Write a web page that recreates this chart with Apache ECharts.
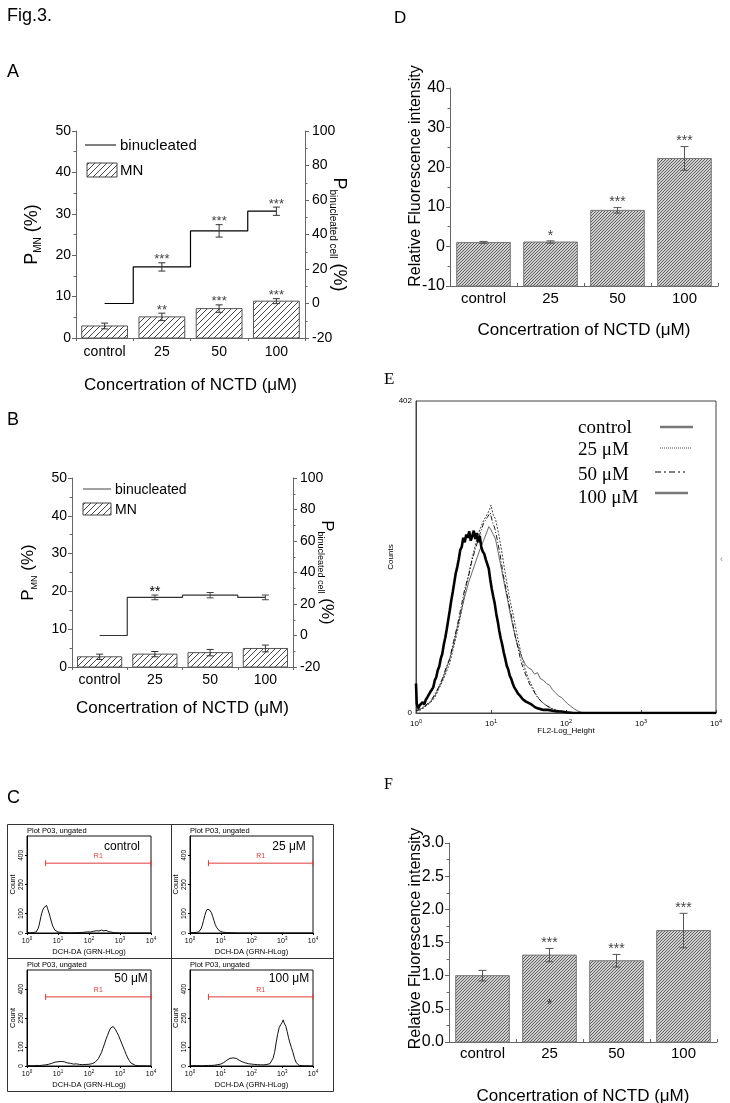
<!DOCTYPE html>
<html>
<head>
<meta charset="utf-8">
<script src="https://cdn.jsdelivr.net/npm/echarts@6.0.0/dist/echarts.min.js"></script>
<style>
html,body{margin:0;padding:0;background:#fff;}
#chart{width:730px;height:1103px;}
</style>
</head>
<body>
<div id="chart"></div>
<script>
// ---------------- data ----------------
const categories = ['control', '25', '50', '100'];
// Panel A
const aMN = [2.9, 5.1, 7.1, 8.9];
const aMNErr = [0.7, 0.9, 0.9, 0.6];
const aMNSig = ['', '**', '***', '***'];
const aBinu = [0, 21.2, 42.1, 53.5];
const aBinuErr = [0, 2.4, 3.6, 2.4];
const aBinuSig = ['', '***', '***', '***'];
// Panel B
const bMN = [2.7, 3.4, 3.8, 4.9];
const bMNErr = [0.7, 0.7, 0.85, 0.9];
const bMNSig = ['', '', '', ''];
const bBinu = [0, 24.2, 25.6, 24.2];
const bBinuErr = [0, 1.5, 1.7, 1.5];
const bBinuSig = ['', '**', '', ''];
// Panel C (x = log10 intensity, y = count)
const cControl = [[0,2],[0.05,3],[0.1,1],[0.15,3],[0.2,2],[0.25,4],[0.3,6],[0.33,12],[0.36,24],[0.39,40],[0.42,62],[0.45,85],[0.48,104],[0.51,118],[0.54,130],[0.57,140],[0.6,134],[0.63,142],[0.66,128],[0.69,118],[0.72,98],[0.75,80],[0.78,62],[0.81,46],[0.84,32],[0.87,22],[0.9,15],[0.95,9],[1.0,5],[1.05,3],[1.2,2],[1.4,1],[1.6,2],[1.8,3],[1.95,6],[2.05,5],[2.15,9],[2.25,12],[2.32,10],[2.4,15],[2.48,11],[2.55,14],[2.62,8],[2.7,5],[2.8,2],[2.9,1],[3.0,0],[4.0,0]];
const c25 = [[0,1],[0.1,2],[0.2,3],[0.28,5],[0.32,10],[0.36,22],[0.4,40],[0.44,64],[0.48,90],[0.52,110],[0.56,122],[0.6,128],[0.63,120],[0.66,124],[0.7,104],[0.74,84],[0.78,64],[0.82,44],[0.86,30],[0.9,20],[0.95,12],[1.0,7],[1.05,5],[1.1,3],[1.2,2],[1.4,1],[1.6,0],[4.0,0]];
const c50 = [[0,1],[0.1,2],[0.2,1],[0.3,3],[0.4,2],[0.5,4],[0.6,6],[0.7,9],[0.8,14],[0.9,20],[0.95,25],[1.0,22],[1.05,28],[1.1,24],[1.15,20],[1.2,22],[1.3,16],[1.4,14],[1.5,10],[1.6,11],[1.7,8],[1.8,7],[1.9,8],[2.0,9],[2.1,12],[2.2,20],[2.3,38],[2.4,70],[2.45,92],[2.5,115],[2.55,140],[2.6,160],[2.65,182],[2.7,198],[2.74,190],[2.78,206],[2.82,198],[2.86,188],[2.9,175],[2.95,160],[3.0,140],[3.05,120],[3.1,100],[3.15,80],[3.2,60],[3.25,42],[3.3,28],[3.35,16],[3.4,8],[3.5,3],[3.6,1],[4.0,0]];
const c100 = [[0,1],[0.2,2],[0.4,1],[0.6,3],[0.7,3],[0.8,4],[0.9,7],[1.0,10],[1.05,14],[1.1,18],[1.15,24],[1.2,30],[1.25,34],[1.3,40],[1.35,46],[1.4,42],[1.45,48],[1.5,40],[1.55,36],[1.6,30],[1.65,26],[1.7,22],[1.75,18],[1.8,16],[1.9,12],[2.0,10],[2.1,8],[2.2,7],[2.3,6],[2.4,6],[2.5,8],[2.6,12],[2.65,20],[2.7,40],[2.75,70],[2.8,120],[2.85,165],[2.9,200],[2.95,215],[3.0,228],[3.03,240],[3.06,225],[3.09,234],[3.12,205],[3.16,180],[3.2,150],[3.25,120],[3.3,95],[3.35,70],[3.4,40],[3.45,18],[3.5,8],[3.55,3],[3.7,1],[4.0,0]];
const gateR1 = [0.6, 4.0, 360];
const cLabels = ['control', '25 μM', '50 μM', '100 μM'];
// Panel D
const dVal = [1.0, 1.1, 9.1, 22.2];
const dErr = [0.25, 0.3, 0.7, 3.0];
const dSig = ['', '*', '***', '***'];
// Panel E (x = log10 FL2 height, y = counts)
const eControl = [[0,38],[0.01,12],[0.03,6],[0.05,10],[0.07,8],[0.09,14],[0.11,11],[0.13,17],[0.15,20],[0.17,18],[0.19,27],[0.21,30],[0.23,33],[0.25,42],[0.27,46],[0.29,55],[0.31,60],[0.33,70],[0.35,76],[0.37,88],[0.39,97],[0.41,108],[0.43,120],[0.45,132],[0.47,145],[0.49,156],[0.51,168],[0.53,180],[0.55,188],[0.57,198],[0.59,210],[0.61,214],[0.63,226],[0.65,220],[0.67,230],[0.69,226],[0.71,234],[0.73,222],[0.75,228],[0.77,235],[0.79,224],[0.81,232],[0.83,220],[0.85,228],[0.87,214],[0.89,208],[0.91,205],[0.93,198],[0.95,192],[0.97,186],[0.99,172],[1.01,160],[1.03,150],[1.05,141],[1.07,128],[1.09,118],[1.11,106],[1.13,96],[1.15,88],[1.17,78],[1.19,70],[1.21,61],[1.23,56],[1.25,48],[1.27,44],[1.29,38],[1.31,33],[1.33,30],[1.36,25],[1.39,22],[1.42,18],[1.46,15],[1.5,13],[1.54,11],[1.58,8],[1.62,6],[1.66,5],[1.7,4],[1.76,4],[1.82,3],[1.88,2],[1.94,2],[2.0,1],[2.1,0],[4,0]];
const e25 = [[0,4],[0.05,3],[0.1,7],[0.15,10],[0.2,14],[0.25,20],[0.3,30],[0.35,40],[0.4,52],[0.45,64],[0.5,84],[0.55,104],[0.6,128],[0.65,155],[0.7,178],[0.75,200],[0.8,220],[0.85,236],[0.9,248],[0.95,256],[0.98,262],[1.0,268],[1.03,255],[1.06,250],[1.1,232],[1.14,210],[1.18,186],[1.22,162],[1.26,142],[1.3,125],[1.34,104],[1.38,86],[1.42,68],[1.46,55],[1.5,44],[1.55,34],[1.6,24],[1.65,17],[1.7,12],[1.8,6],[1.9,3],[2.0,1],[2.1,0],[4,0]];
const e50 = [[0,3],[0.05,5],[0.1,6],[0.15,12],[0.2,16],[0.25,24],[0.3,33],[0.35,44],[0.4,58],[0.45,70],[0.5,92],[0.55,112],[0.6,136],[0.65,160],[0.7,176],[0.75,198],[0.8,214],[0.85,230],[0.9,244],[0.95,252],[0.99,258],[1.02,246],[1.05,238],[1.08,225],[1.12,205],[1.16,180],[1.2,160],[1.24,140],[1.28,122],[1.32,100],[1.36,84],[1.4,66],[1.44,55],[1.48,45],[1.52,36],[1.57,28],[1.62,20],[1.68,14],[1.75,9],[1.85,4],[1.95,2],[2.05,0],[4,0]];
const e100 = [[0,2],[0.05,4],[0.1,8],[0.15,11],[0.2,15],[0.25,22],[0.3,32],[0.35,42],[0.4,56],[0.45,70],[0.5,88],[0.55,110],[0.6,130],[0.65,150],[0.7,168],[0.75,182],[0.8,196],[0.85,210],[0.9,222],[0.94,232],[0.97,240],[1.0,236],[1.03,230],[1.06,224],[1.1,205],[1.14,185],[1.18,165],[1.22,146],[1.26,126],[1.3,108],[1.34,92],[1.38,80],[1.42,70],[1.46,62],[1.5,58],[1.54,56],[1.58,50],[1.62,52],[1.66,44],[1.7,42],[1.74,38],[1.78,36],[1.82,30],[1.86,26],[1.9,22],[1.94,20],[1.98,16],[2.02,12],[2.06,9],[2.1,6],[2.15,3],[2.2,1],[2.25,0],[4,0]];
const eLegend = ['control', '25 μM', '50 μM', '100 μM'];
// Panel F
const fVal = [1.0, 1.31, 1.225, 1.68];
const fErr = [0.08, 0.10, 0.095, 0.26];
const fSig = ['', '***', '***', '***'];
const fInnerMark = [[1, 0.55, '*']];

// ---------------- styles ----------------
const FONT = "'Liberation Sans', Arial, Helvetica, sans-serif";
const SERIF = "'Liberation Serif', 'Times New Roman', serif";
const AX = '#666';
const xTitle = 'Concertration of NCTD (μM)';

function hatch(size, bg, fg, lw) {
  const c = document.createElement('canvas');
  c.width = size; c.height = size;
  const g = c.getContext('2d');
  g.fillStyle = bg; g.fillRect(0, 0, size, size);
  g.strokeStyle = fg; g.lineWidth = lw;
  g.beginPath();
  g.moveTo(-1, size + 1); g.lineTo(size + 1, -1);
  g.moveTo(-1, 1); g.lineTo(1, -1);
  g.moveTo(size - 1, size + 1); g.lineTo(size + 1, size - 1);
  g.stroke();
  return c;
}
const patLight = { image: hatch(6, '#ffffff', '#333333', 0.9), repeat: 'repeat' };
const patDense = { image: hatch(3, '#d0d0d0', '#555555', 0.9), repeat: 'repeat' };

function richName(size, sub) {
  return {
    p: { fontSize: size, lineHeight: size + 4, fontFamily: FONT, color: '#000' },
    s: { fontSize: sub, lineHeight: sub, verticalAlign: 'bottom', fontFamily: FONT, color: '#000' }
  };
}

function txt(x, y, text, font, extra) {
  return { type: 'text', style: Object.assign({ x: x, y: y, text: text, font: font, fill: '#000',
    align: 'left', verticalAlign: 'middle', textAlign: 'left', textVerticalAlign: 'middle' }, extra || {}) };
}

function catX(gridIndex, labelSize, margin, nameGap, nameSize, tickInside) {
  return {
    type: 'category', gridIndex: gridIndex, data: categories, boundaryGap: true,
    axisLine: { show: true, onZero: false, lineStyle: { color: AX, width: 1 } },
    axisTick: { show: true, alignWithLabel: false, inside: !!tickInside, length: 3, lineStyle: { color: AX } },
    axisLabel: { color: '#000', fontSize: labelSize, margin: margin, fontFamily: FONT },
    splitLine: { show: false },
    name: xTitle, nameLocation: 'middle', nameGap: nameGap, nameMoveOverlap: false,
    nameTextStyle: { color: '#000', fontSize: nameSize, fontFamily: FONT }
  };
}
function valY(gridIndex, min, max, interval, extra) {
  return Object.assign({
    type: 'value', gridIndex: gridIndex, min: min, max: max, interval: interval,
    axisLine: { show: true, onZero: false, lineStyle: { color: AX, width: 1 } },
    axisTick: { show: true, length: 4, lineStyle: { color: AX } },
    minorTick: { show: true, splitNumber: 2, length: 2.5, lineStyle: { color: AX } },
    splitLine: { show: false }, minorSplitLine: { show: false },
    nameMoveOverlap: false
  }, extra);
}
function logX(gridIndex, fs, margin, name, nameGap, nameSize) {
  return {
    type: 'value', gridIndex: gridIndex, min: 0, max: 4, interval: 1,
    axisLine: { show: true, onZero: false, lineStyle: { color: '#000', width: 1 } },
    axisTick: { show: true, length: 2, lineStyle: { color: '#000' } },
    axisLabel: { color: '#000', margin: margin, fontFamily: FONT,
      formatter: function (v) { return '{b|10}{s|' + v + '}'; },
      rich: { b: { fontSize: fs, lineHeight: fs + 2, verticalAlign: 'bottom', fontFamily: FONT, color: '#000' },
              s: { fontSize: fs - 2.5, lineHeight: fs - 3, verticalAlign: 'top', fontFamily: FONT, color: '#000' } } },
    splitLine: { show: false },
    name: name, nameLocation: 'middle', nameGap: nameGap, nameMoveOverlap: false,
    nameTextStyle: { color: '#000', fontSize: nameSize, fontFamily: FONT }
  };
}
function cY(gridIndex) {
  return {
    type: 'value', gridIndex: gridIndex, min: 0, max: 500,
    axisLine: { show: true, onZero: false, lineStyle: { color: '#000' } },
    axisTick: { show: true, length: 2, customValues: [0, 100, 250, 400], lineStyle: { color: '#000' } },
    axisLabel: { rotate: 90, fontSize: 6.5, margin: 2, color: '#000', fontFamily: FONT, customValues: [0, 100, 250, 400] },
    splitLine: { show: false },
    name: 'Count', nameLocation: 'middle', nameGap: 10, nameMoveOverlap: false,
    nameTextStyle: { color: '#000', fontSize: 7.5, fontFamily: FONT }
  };
}

function barSeries(xi, yi, vals, base, fill, stroke) {
  return {
    type: 'custom', xAxisIndex: xi, yAxisIndex: yi, z: 2,
    data: vals.map(function (v, i) { return [i, v]; }),
    renderItem: function (params, api) {
      const i = api.value(0), v = api.value(1);
      const top = api.coord([i, v]);
      const bot = api.coord([i, base]);
      const w = api.size([1, 0])[0] * 0.8;
      return { type: 'rect', shape: { x: top[0] - w / 2, y: top[1], width: w, height: bot[1] - top[1] },
        style: { fill: fill, stroke: stroke, lineWidth: 1 } };
    }
  };
}
function errSeries(xi, yi, vals, errs, sigs, o) {
  return {
    type: 'custom', xAxisIndex: xi, yAxisIndex: yi, z: 5,
    data: vals.map(function (v, i) { return [i, v, errs[i]]; }),
    renderItem: function (params, api) {
      const i = api.value(0), v = api.value(1), e = api.value(2);
      const hi = api.coord([i, v + e]), lo = api.coord([i, v - e]);
      const cw = o.cap;
      const st = { stroke: o.color, lineWidth: 1 };
      const ch = [];
      if (e > 0) {
        ch.push({ type: 'line', shape: { x1: hi[0], y1: hi[1], x2: lo[0], y2: lo[1] }, style: st });
        ch.push({ type: 'line', shape: { x1: hi[0] - cw, y1: hi[1], x2: hi[0] + cw, y2: hi[1] }, style: st });
        ch.push({ type: 'line', shape: { x1: lo[0] - cw, y1: lo[1], x2: lo[0] + cw, y2: lo[1] }, style: st });
      }
      const s = sigs[params.dataIndex];
      if (s) {
        ch.push({ type: 'text', style: { x: hi[0], y: hi[1] - o.gap, text: s, fill: o.sigColor, font: o.font,
          align: 'center', verticalAlign: 'middle', textAlign: 'center', textVerticalAlign: 'middle' } });
      }
      return { type: 'group', children: ch };
    }
  };
}
function gateSeries(xi, yi, g) {
  return {
    type: 'custom', xAxisIndex: xi, yAxisIndex: yi, z: 5, data: [g],
    renderItem: function (params, api) {
      const a = api.coord([api.value(0), api.value(2)]);
      const b = api.coord([api.value(1), api.value(2)]);
      const red = '#e03a3a';
      const st = { stroke: red, lineWidth: 1 };
      return { type: 'group', children: [
        { type: 'line', shape: { x1: a[0], y1: a[1], x2: b[0], y2: b[1] }, style: st },
        { type: 'line', shape: { x1: a[0], y1: a[1] - 3, x2: a[0], y2: a[1] + 3 }, style: st },
        { type: 'line', shape: { x1: b[0], y1: b[1] - 3, x2: b[0], y2: b[1] + 3 }, style: st },
        { type: 'text', style: { x: (a[0] + b[0]) / 2, y: a[1] - 7, text: 'R1', fill: red, font: "7px " + FONT,
          align: 'center', verticalAlign: 'middle', textAlign: 'center', textVerticalAlign: 'middle' } }
      ] };
    }
  };
}
function histSeries(xi, yi, data, color, width, dash) {
  return { type: 'line', xAxisIndex: xi, yAxisIndex: yi, data: data, symbol: 'none', smooth: false,
    lineStyle: { color: color, width: width, type: dash || 'solid' }, z: 3 };
}

// ---------------- grids ----------------
const grids = [
  { left: 76, top: 131, width: 229, height: 207 },           // 0 A
  { left: 72, top: 478, width: 221, height: 189 },           // 1 B
  { left: 27, top: 836, width: 124, height: 97, show: true, borderColor: '#111', borderWidth: 1 },   // 2 C control
  { left: 190, top: 836, width: 123, height: 97, show: true, borderColor: '#111', borderWidth: 1 },  // 3 C 25
  { left: 27, top: 970, width: 124, height: 96, show: true, borderColor: '#111', borderWidth: 1 },   // 4 C 50
  { left: 190, top: 970, width: 123, height: 96, show: true, borderColor: '#111', borderWidth: 1 },  // 5 C 100
  { left: 450, top: 88, width: 268, height: 198 },           // 6 D
  { left: 416, top: 401, width: 300, height: 312, show: true, borderColor: '#444', borderWidth: 1 }, // 7 E
  { left: 449, top: 843, width: 268, height: 199 }           // 8 F
].map(function (g) { return Object.assign({ containLabel: false, outerBoundsMode: 'none' }, g); });

const xAxes = [
  catX(0, 14, 7, 39, 17, false),
  catX(1, 14, 6, 33, 17, false),
  logX(2, 7, 3, 'DCH-DA (GRN-HLog)', 15, 7.5),
  logX(3, 7, 3, 'DCH-DA (GRN-HLog)', 15, 7.5),
  logX(4, 7, 3, 'DCH-DA (GRN-HLog)', 15, 7.5),
  logX(5, 7, 3, 'DCH-DA (GRN-HLog)', 15, 7.5),
  catX(6, 15, 5, 36, 17, true),
  Object.assign(logX(7, 8, 5, 'FL2-Log_Height', 14, 8), {
    axisTick: { show: true, inside: true, length: 3, lineStyle: { color: '#444' } },
    axisLine: { show: true, onZero: false, lineStyle: { color: '#444' } } }),
  catX(8, 15, 4, 46, 17, true)
];

const yAxes = [
  valY(0, 0, 50, 10, { position: 'left',
    axisLabel: { color: '#000', fontSize: 14, margin: 5, fontFamily: FONT },
    name: '{p|P}{s|MN}{p| (%)}', nameLocation: 'middle', nameGap: 33,
    nameTextStyle: { rich: richName(18, 10) } }),
  valY(0, -20, 100, 20, { position: 'right',
    axisLabel: { color: '#000', fontSize: 14, margin: 7, fontFamily: FONT },
    name: '{p|P}{s|binucleated cell}{p| (%)}', nameLocation: 'middle', nameGap: 23, nameRotate: -90,
    nameTextStyle: { rich: richName(18, 10) } }),
  valY(1, 0, 50, 10, { position: 'left',
    axisLabel: { color: '#000', fontSize: 14, margin: 5, fontFamily: FONT },
    name: '{p|P}{s|MN}{p| (%)}', nameLocation: 'middle', nameGap: 33,
    nameTextStyle: { rich: richName(17, 9) } }),
  valY(1, -20, 100, 20, { position: 'right',
    axisLabel: { color: '#000', fontSize: 14, margin: 7, fontFamily: FONT },
    name: '{p|P}{s|binucleated cell}{p| (%)}', nameLocation: 'middle', nameGap: 23, nameRotate: -90,
    nameTextStyle: { rich: richName(17, 9) } }),
  cY(2), cY(3), cY(4), cY(5),
  valY(6, -10, 40, 10, { position: 'left',
    axisLabel: { color: '#000', fontSize: 16, margin: 5, fontFamily: FONT },
    name: 'Relative Fluorescence intensity', nameLocation: 'middle', nameGap: 26,
    nameTextStyle: { color: '#000', fontSize: 16, fontFamily: FONT, padding: [0, 0, 0, 22] } }),
  { type: 'value', gridIndex: 7, min: 0, max: 402,
    axisLine: { show: true, onZero: false, lineStyle: { color: '#444' } }, axisTick: { show: false },
    axisLabel: { color: '#000', fontSize: 8, margin: 4, fontFamily: FONT, customValues: [0, 402] },
    splitLine: { show: false },
    name: 'Counts', nameLocation: 'middle', nameGap: 21, nameMoveOverlap: false,
    nameTextStyle: { color: '#000', fontSize: 8, fontFamily: FONT } },
  valY(8, 0, 3, 0.5, { position: 'left',
    axisLabel: { color: '#000', fontSize: 16, margin: 5, fontFamily: FONT,
      formatter: function (v) { return v.toFixed(1); } },
    name: 'Relative Fluorescence intensity', nameLocation: 'middle', nameGap: 25,
    nameTextStyle: { color: '#000', fontSize: 16, fontFamily: FONT, padding: [0, 0, 0, 8] } })
];

const sigSmall = { cap: 3.5, color: '#333', sigColor: '#444', font: '13px ' + FONT, gap: 3 };
const sigD = { cap: 4, color: '#555', sigColor: '#444', font: '14px ' + FONT, gap: 5 };

const series = [
  // A
  barSeries(0, 0, aMN, 0, patLight, '#555'),
  errSeries(0, 0, aMN, aMNErr, aMNSig, sigSmall),
  { type: 'line', xAxisIndex: 0, yAxisIndex: 1, data: aBinu, step: 'middle', symbol: 'none',
    lineStyle: { color: '#000', width: 1.2 }, z: 3 },
  errSeries(0, 1, aBinu, aBinuErr, aBinuSig, sigSmall),
  // B
  barSeries(1, 2, bMN, 0, patLight, '#555'),
  errSeries(1, 2, bMN, bMNErr, bMNSig, sigSmall),
  { type: 'line', xAxisIndex: 1, yAxisIndex: 3, data: bBinu, step: 'middle', symbol: 'none',
    lineStyle: { color: '#333', width: 1.2 }, z: 3 },
  errSeries(1, 3, bBinu, bBinuErr, bBinuSig, { cap: 3.5, color: '#444', sigColor: '#000', font: '14px ' + FONT, gap: 3 }),
  // C
  histSeries(2, 4, cControl, '#111', 1),
  histSeries(3, 5, c25, '#111', 1),
  histSeries(4, 6, c50, '#111', 1),
  histSeries(5, 7, c100, '#111', 1),
  gateSeries(2, 4, gateR1), gateSeries(3, 5, gateR1), gateSeries(4, 6, gateR1), gateSeries(5, 7, gateR1),
  // D
  barSeries(6, 8, dVal, -10, patDense, '#777'),
  errSeries(6, 8, dVal, dErr, dSig, sigD),
  // E
  histSeries(7, 9, e100, '#555', 0.9),
  histSeries(7, 9, e25, '#444', 1, [2, 1.5]),
  histSeries(7, 9, e50, '#000', 0.9, [5, 2, 1, 2]),
  histSeries(7, 9, eControl, '#000', 2.6),
  // F
  barSeries(8, 10, fVal, 0, patDense, '#777'),
  errSeries(8, 10, fVal, fErr, fSig, sigD),
  { type: 'custom', xAxisIndex: 8, yAxisIndex: 10, z: 6, data: fInnerMark,
    renderItem: function (params, api) {
      const p = api.coord([api.value(0), api.value(1)]);
      return { type: 'text', style: { x: p[0], y: p[1], text: fInnerMark[params.dataIndex][2], fill: '#333',
        font: '14px ' + FONT, align: 'center', verticalAlign: 'middle', textAlign: 'center', textVerticalAlign: 'middle' } };
    } }
];

// ---------------- decorations (labels, legends, frames) ----------------
const SANS = FONT;
const els = [
  txt(7, 16, 'Fig.3.', '18px ' + SANS),
  txt(7, 72, 'A', '18px ' + SANS),
  txt(7, 420, 'B', '18px ' + SANS),
  txt(7, 798, 'C', '18px ' + SANS),
  txt(394, 18, 'D', '17px ' + SANS),
  txt(384, 380, 'E', '17px ' + SERIF),
  txt(384, 785, 'F', '16px ' + SERIF),
  // A legend
  { type: 'line', shape: { x1: 85, y1: 145, x2: 116, y2: 145 }, style: { stroke: '#000', lineWidth: 1 } },
  txt(120, 146, 'binucleated', '15px ' + SANS),
  { type: 'rect', shape: { x: 87, y: 163, width: 30, height: 14 }, style: { fill: patLight, stroke: '#444', lineWidth: 1 } },
  txt(120, 171, 'MN', '15px ' + SANS),
  // B legend
  { type: 'line', shape: { x1: 83, y1: 489, x2: 111, y2: 489 }, style: { stroke: '#444', lineWidth: 1 } },
  txt(115, 490, 'binucleated', '14px ' + SANS),
  { type: 'rect', shape: { x: 83, y: 503, width: 28, height: 12 }, style: { fill: patLight, stroke: '#444', lineWidth: 1 } },
  txt(115, 510, 'MN', '14px ' + SANS),
  // C frames
  { type: 'rect', shape: { x: 7.5, y: 824.5, width: 326, height: 267 }, style: { fill: 'none', stroke: '#333', lineWidth: 1 } },
  { type: 'line', shape: { x1: 171.5, y1: 824, x2: 171.5, y2: 1092 }, style: { stroke: '#333', lineWidth: 1 } },
  { type: 'line', shape: { x1: 7, y1: 958.5, x2: 334, y2: 958.5 }, style: { stroke: '#333', lineWidth: 1 } },
  txt(27, 831, 'Plot P03, ungated', '7.5px ' + SANS),
  txt(190, 831, 'Plot P03, ungated', '7.5px ' + SANS),
  txt(27, 965, 'Plot P03, ungated', '7.5px ' + SANS),
  txt(190, 965, 'Plot P03, ungated', '7.5px ' + SANS),
  txt(122, 847, cLabels[0], '12px ' + SANS, { align: 'center', textAlign: 'center' }),
  txt(289, 847, cLabels[1], '12px ' + SANS, { align: 'center', textAlign: 'center' }),
  txt(131, 979, cLabels[2], '12px ' + SANS, { align: 'center', textAlign: 'center' }),
  txt(289, 979, cLabels[3], '12px ' + SANS, { align: 'center', textAlign: 'center' }),
  // E legend
  txt(578, 428, eLegend[0], '19px ' + SERIF),
  txt(578, 450, eLegend[1], '19px ' + SERIF),
  txt(578, 475, eLegend[2], '19px ' + SERIF),
  txt(578, 498, eLegend[3], '19px ' + SERIF),
  { type: 'line', shape: { x1: 660, y1: 427, x2: 693, y2: 427 }, style: { stroke: '#777', lineWidth: 2.5 } },
  { type: 'line', shape: { x1: 660, y1: 448, x2: 692, y2: 448 }, style: { stroke: '#888', lineWidth: 1.5, lineDash: [1, 1] } },
  { type: 'line', shape: { x1: 655, y1: 472, x2: 685, y2: 472 }, style: { stroke: '#000', lineWidth: 1.2, lineDash: [6, 3, 2, 3] } },
  { type: 'line', shape: { x1: 655, y1: 493, x2: 688, y2: 493 }, style: { stroke: '#777', lineWidth: 2.5 } },
  txt(720, 560, '‹', '9px ' + SANS, { fill: '#888' })
];

const chart = echarts.init(document.getElementById('chart'), null, { renderer: 'canvas' });
chart.setOption({
  animation: false,
  backgroundColor: '#fff',
  textStyle: { fontFamily: FONT },
  grid: grids,
  xAxis: xAxes,
  yAxis: yAxes,
  series: series,
  graphic: { elements: els }
});
</script>
</body>
</html>
